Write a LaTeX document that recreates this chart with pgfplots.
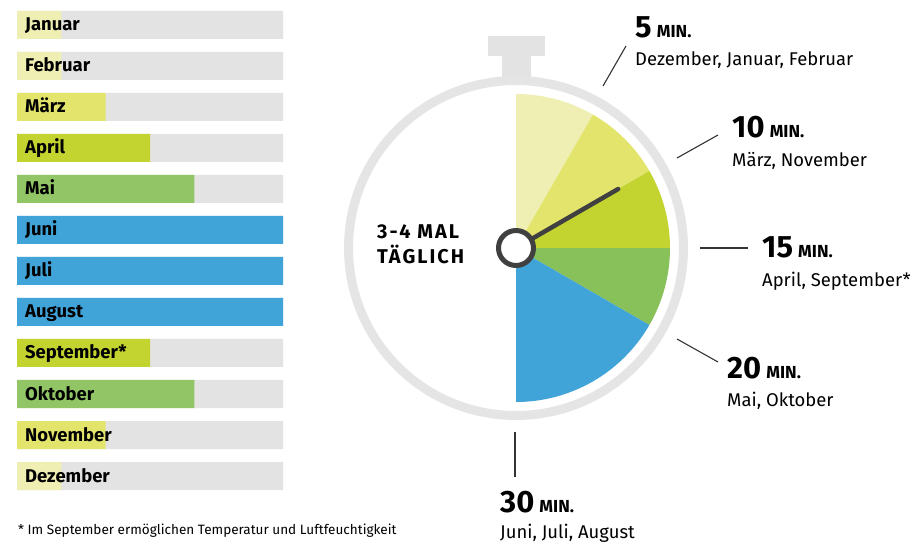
\documentclass[border=0pt]{standalone}
\usepackage{pgfplots}
\pgfplotsset{compat=1.18}
\usepackage{fontspec}
\setmainfont{Fira Sans}
\definecolor{cpale}{HTML}{EFEFB3}
\definecolor{cyel}{HTML}{E3E46B}
\definecolor{clime}{HTML}{C3D32F}
\definecolor{cgreen}{HTML}{91C566}
\definecolor{cpgreen}{HTML}{88C05A}
\definecolor{cblue}{HTML}{41A4D8}
\definecolor{cgrey}{HTML}{E3E3E3}
\definecolor{cring}{HTML}{E4E5E4}
\definecolor{chand}{HTML}{404040}
\definecolor{cline}{HTML}{333333}
\newcommand{\mlab}[1]{\fontsize{18.5}{20}\selectfont\bfseries #1}
\newcommand{\minlab}[1]{{\bfseries\fontsize{31}{31}\selectfont #1\,\fontsize{17.5}{17}\selectfont MIN.}}
\newcommand{\sublab}[1]{{\fontsize{18.5}{20}\selectfont #1}}
\begin{document}
\begin{tikzpicture}[x=1bp,y=1bp]
\path[use as bounding box] (0,0) rectangle (915,-542);
\coordinate (barSW) at (17,-496.5);
\coordinate (watchSW) at (336,-428);
% ---------------- bar chart (Januar at y=11 ... Dezember at y=0) ----------------
\begin{axis}[at={(barSW)}, anchor=south west, scale only axis,
  width=266bp, height=492bp, xmin=0, xmax=30, ymin=-0.5, ymax=11.5,
  hide axis, clip=false]
\addplot[xbar, bar shift=0pt, bar width=28bp, fill=cgrey, draw=none] coordinates {(30,0) (30,1) (30,2) (30,3) (30,4) (30,5) (30,6) (30,7) (30,8) (30,9) (30,10) (30,11)};
\addplot[xbar, bar shift=0pt, bar width=28bp, fill=cpale, draw=none] coordinates {(5,11) (5,10) (5,0)};
\addplot[xbar, bar shift=0pt, bar width=28bp, fill=cyel, draw=none] coordinates {(10,9) (10,1)};
\addplot[xbar, bar shift=0pt, bar width=28bp, fill=clime, draw=none] coordinates {(15,8) (15,3)};
\addplot[xbar, bar shift=0pt, bar width=28bp, fill=cgreen, draw=none] coordinates {(20,7) (20,2)};
\addplot[xbar, bar shift=0pt, bar width=28bp, fill=cblue, draw=none] coordinates {(30,6) (30,5) (30,4)};
\node[anchor=base west, inner sep=0pt, xshift=8bp, yshift=-6bp] at (axis cs:0,11) {\mlab{Januar}};
\node[anchor=base west, inner sep=0pt, xshift=8bp, yshift=-6bp] at (axis cs:0,10) {\mlab{Februar}};
\node[anchor=base west, inner sep=0pt, xshift=8bp, yshift=-6bp] at (axis cs:0,9) {\mlab{März}};
\node[anchor=base west, inner sep=0pt, xshift=8bp, yshift=-6bp] at (axis cs:0,8) {\mlab{April}};
\node[anchor=base west, inner sep=0pt, xshift=8bp, yshift=-6bp] at (axis cs:0,7) {\mlab{Mai}};
\node[anchor=base west, inner sep=0pt, xshift=8bp, yshift=-6bp] at (axis cs:0,6) {\mlab{Juni}};
\node[anchor=base west, inner sep=0pt, xshift=8bp, yshift=-6bp] at (axis cs:0,5) {\mlab{Juli}};
\node[anchor=base west, inner sep=0pt, xshift=8bp, yshift=-6bp] at (axis cs:0,4) {\mlab{August}};
\node[anchor=base west, inner sep=0pt, xshift=8bp, yshift=-6bp] at (axis cs:0,3) {\mlab{September*}};
\node[anchor=base west, inner sep=0pt, xshift=8bp, yshift=-6bp] at (axis cs:0,2) {\mlab{Oktober}};
\node[anchor=base west, inner sep=0pt, xshift=8bp, yshift=-6bp] at (axis cs:0,1) {\mlab{November}};
\node[anchor=base west, inner sep=0pt, xshift=8bp, yshift=-6bp] at (axis cs:0,0) {\mlab{Dezember}};
\end{axis}
% ---------------- stopwatch ----------------
\begin{axis}[at={(watchSW)}, anchor=south west, scale only axis,
  width=360bp, height=400bp, xmin=-180, xmax=180, ymin=-180, ymax=220,
  hide axis, clip=false]
\fill[cgrey] (axis cs:-14,160) rectangle (axis cs:15,194);
\fill[cgrey] (axis cs:-28,192) rectangle (axis cs:29,212);
\draw[cring, line width=9bp, fill=white] (axis cs:0,0) circle[radius=167.5bp];
% wedges (minutes -> angle: 90 - 6*min)
\fill[cpale]  (axis cs:0,0) -- ++(90:154bp) arc[start angle=90, end angle=60, radius=154bp] -- cycle;
\fill[cyel]   (axis cs:0,0) -- ++(60:154bp) arc[start angle=60, end angle=30, radius=154bp] -- cycle;
\fill[clime]  (axis cs:0,0) -- ++(30:154bp) arc[start angle=30, end angle=0, radius=154bp] -- cycle;
\fill[cpgreen] (axis cs:0,0) -- ++(0:154bp) arc[start angle=0, end angle=-30, radius=154bp] -- cycle;
\fill[cblue]  (axis cs:0,0) -- ++(-30:154bp) arc[start angle=-30, end angle=-90, radius=154bp] -- cycle;
\draw[chand, line width=4.5bp, line cap=round] (axis cs:0,0) -- ++(30:118bp);
\draw[chand, line width=5bp, fill=white] (axis cs:0,0) circle[radius=17.5bp];
\draw[cline, line width=1.1bp] (axis cs:87,162) -- (axis cs:110,202);
\draw[cline, line width=1.1bp] (axis cs:161,90) -- (axis cs:202,113);
\draw[cline, line width=1.1bp] (axis cs:184,0) -- (axis cs:232,0);
\draw[cline, line width=1.1bp] (axis cs:161,-91) -- (axis cs:202,-114);
\draw[cline, line width=1.1bp] (axis cs:-1,-184) -- (axis cs:-1,-229);
\end{axis}
\node[anchor=base west, inner sep=0pt] at (377,-239) {\bfseries\fontsize{20}{22}\selectfont\addfontfeatures{LetterSpace=10}3-4 MAL};
\node[anchor=base west, inner sep=0pt] at (377,-264) {\bfseries\fontsize{20}{22}\selectfont\addfontfeatures{LetterSpace=10}TÄGLICH};
\node[anchor=base west, inner sep=0pt] at (635,-38) {\minlab{5}};
\node[anchor=base west, inner sep=0pt] at (635,-66) {\sublab{Dezember, Januar, Februar}};
\node[anchor=base west, inner sep=0pt] at (732,-138) {\minlab{10}};
\node[anchor=base west, inner sep=0pt] at (732,-167) {\sublab{März, November}};
\node[anchor=base west, inner sep=0pt] at (762,-258) {\minlab{15}};
\node[anchor=base west, inner sep=0pt] at (762,-287) {\sublab{April, September*}};
\node[anchor=base west, inner sep=0pt] at (727,-378) {\minlab{20}};
\node[anchor=base west, inner sep=0pt] at (727,-406) {\sublab{Mai, Oktober}};
\node[anchor=base west, inner sep=0pt] at (500,-512) {\minlab{30}};
\node[anchor=base west, inner sep=0pt] at (500,-538) {\sublab{Juni, Juli, August}};
\node[anchor=base west, inner sep=0pt] at (18,-534) {\fontsize{13.6}{16}\selectfont * Im September ermöglichen Temperatur und Luftfeuchtigkeit};
\end{tikzpicture}
\end{document}
